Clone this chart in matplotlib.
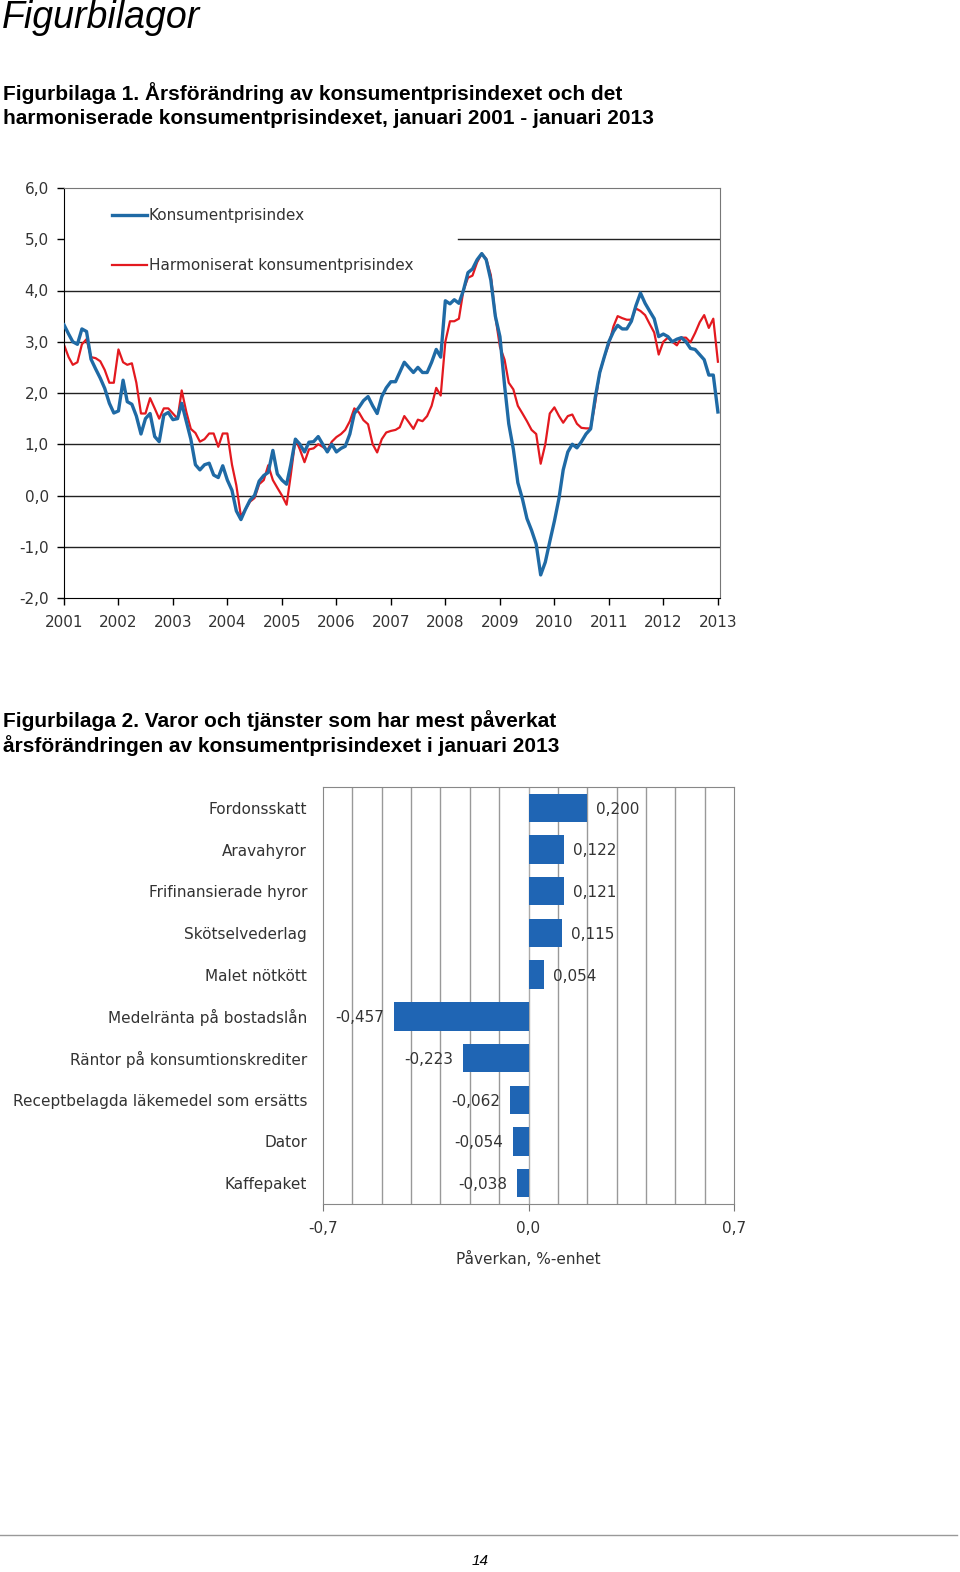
import matplotlib.pyplot as plt
import pandas as pd

# Figurbilaga 1: monthly annual change (%), Jan 2001 - Jan 2013
kpi = [
    3.33, 3.15, 3.00, 2.95, 3.25, 3.20, 2.66, 2.47, 2.29, 2.09, 1.80, 1.61,
    1.65, 2.25, 1.83, 1.78, 1.55, 1.20, 1.50, 1.60, 1.15, 1.05, 1.57, 1.62,
    1.48, 1.50, 1.80, 1.44, 1.10, 0.60, 0.50, 0.60, 0.63, 0.40, 0.35, 0.58,
    0.30, 0.10, -0.30, -0.47, -0.27, -0.09, 0.00, 0.28, 0.39, 0.45, 0.88, 0.42,
    0.30, 0.22, 0.60, 1.10, 1.00, 0.85, 1.04, 1.05, 1.15, 1.00, 0.85, 1.00,
    0.85, 0.92, 0.96, 1.20, 1.60, 1.72, 1.85, 1.93, 1.75, 1.60, 1.93, 2.10,
    2.22, 2.22, 2.40, 2.60, 2.50, 2.40, 2.50, 2.40, 2.40, 2.60, 2.85, 2.70,
    3.80, 3.74, 3.82, 3.75, 4.00, 4.35, 4.42, 4.60, 4.72, 4.60, 4.20, 3.50,
    3.10, 2.15, 1.40, 0.90, 0.25, -0.07, -0.45, -0.68, -0.95, -1.55, -1.30, -0.90,
    -0.50, -0.05, 0.50, 0.85, 1.00, 0.93, 1.05, 1.20, 1.30, 1.90, 2.40, 2.70,
    3.00, 3.20, 3.32, 3.25, 3.25, 3.40, 3.70, 3.95, 3.75, 3.60, 3.45, 3.10,
    3.15, 3.10, 3.00, 3.05, 3.08, 3.00, 2.87, 2.85, 2.75, 2.65, 2.35, 2.35,
    1.63,
]
hikp = [
    2.94, 2.70, 2.55, 2.60, 2.95, 3.05, 2.70, 2.68, 2.62, 2.45, 2.20, 2.20,
    2.85, 2.60, 2.55, 2.58, 2.20, 1.60, 1.60, 1.90, 1.70, 1.50, 1.70, 1.70,
    1.60, 1.50, 2.05, 1.63, 1.30, 1.22, 1.05, 1.10, 1.21, 1.21, 0.95, 1.21,
    1.21, 0.60, 0.20, -0.41, -0.27, -0.12, -0.05, 0.22, 0.30, 0.59, 0.30, 0.15,
    0.00, -0.18, 0.40, 1.10, 0.90, 0.65, 0.90, 0.92, 1.00, 0.95, 0.88, 1.05,
    1.14, 1.20, 1.28, 1.45, 1.70, 1.62, 1.47, 1.39, 1.00, 0.84, 1.10, 1.23,
    1.26, 1.28, 1.33, 1.55, 1.43, 1.30, 1.48, 1.45, 1.55, 1.75, 2.10, 1.95,
    3.00, 3.40, 3.40, 3.45, 4.00, 4.25, 4.29, 4.55, 4.72, 4.62, 4.30, 3.50,
    2.90, 2.65, 2.20, 2.07, 1.75, 1.60, 1.45, 1.28, 1.20, 0.62, 1.00, 1.60,
    1.72, 1.55, 1.42, 1.55, 1.58, 1.40, 1.32, 1.31, 1.31, 1.80, 2.40, 2.70,
    2.95, 3.30, 3.50, 3.46, 3.43, 3.43, 3.65, 3.60, 3.52, 3.35, 3.18, 2.75,
    3.00, 3.08, 3.00, 2.93, 3.08, 3.08, 2.99, 3.17, 3.38, 3.52, 3.27, 3.45,
    2.61,
]
months = pd.date_range("2001-01-01", periods=len(kpi), freq="MS")
years = list(range(2001, 2014))
y_ticks = [-2, -1, 0, 1, 2, 3, 4, 5, 6]

# Figurbilaga 2: impact, percentage points
items = [
    "Fordonsskatt", "Aravahyror", "Frifinansierade hyror", "Skötselvederlag",
    "Malet nötkött", "Medelränta på bostadslån", "Räntor på konsumtionskrediter",
    "Receptbelagda läkemedel som ersätts", "Dator", "Kaffepaket",
]
impact = [0.200, 0.122, 0.121, 0.115, 0.054, -0.457, -0.223, -0.062, -0.054, -0.038]

W, H = 960, 1572
fig = plt.figure(figsize=(W / 100, H / 100), dpi=100)
plt.rcParams["font.family"] = ["DejaVu Sans"]
TXT = "#333333"
head = ["Liberation Sans", "DejaVu Sans"]


def fy(py):
    return 1 - py / H


fig.text(2 / W, fy(18), "Figurbilagor", fontsize=27, style="italic", family=head, va="center")
fig.text(3 / W, fy(93), "Figurbilaga 1. Årsförändring av konsumentprisindexet och det",
         fontsize=15, weight="bold", family=head, va="center")
fig.text(3 / W, fy(118), "harmoniserade konsumentprisindexet, januari 2001 - januari 2013",
         fontsize=15, weight="bold", family=head, va="center")
fig.text(3 / W, fy(721), "Figurbilaga 2. Varor och tjänster som har mest påverkat",
         fontsize=15, weight="bold", family=head, va="center")
fig.text(3 / W, fy(746), "årsförändringen av konsumentprisindexet i januari 2013",
         fontsize=15, weight="bold", family=head, va="center")

# line chart
ax = fig.add_axes([64 / W, fy(598), 656 / W, 410 / H])
for v in y_ticks[1:-1]:
    xmin = 0.6 if v == 5 else 0
    ax.axhline(v, xmin=xmin, color="#222222", lw=1, zorder=1)
ax.plot(months, kpi, color="#1f6aa5", lw=2.4, label="Konsumentprisindex", zorder=3)
ax.plot(months, hikp, color="#e3191f", lw=1.6, label="Harmoniserat konsumentprisindex", zorder=2)
ax.set_ylim(-2, 6)
ax.set_xlim(months[0], months[-1] + pd.Timedelta(days=14))
ax.set_yticks(y_ticks)
ax.set_yticklabels([f"{v:.1f}".replace(".", ",") for v in y_ticks])
ax.set_xticks([pd.Timestamp(f"{y}-01-01") for y in years])
ax.set_xticklabels([str(y) for y in years])
ax.tick_params(axis="y", length=5, width=1, pad=6, labelsize=11, labelcolor=TXT)
ax.tick_params(axis="x", length=5, width=1, pad=7, labelsize=11, labelcolor=TXT)
for s in ["top", "right"]:
    ax.spines[s].set_color("#777777")
for s in ["left", "bottom"]:
    ax.spines[s].set_color("black")
leg = ax.legend(loc="upper left", bbox_to_anchor=(0.073, 0.951), frameon=False,
                fontsize=11, handlelength=2.3, handletextpad=0.1, labelspacing=2.3,
                borderpad=0, borderaxespad=0)
for t in leg.get_texts():
    t.set_color(TXT)

# bar chart
bx = fig.add_axes([323 / W, fy(1204), 411 / W, 417 / H])
pos = list(range(len(items)))
for g in [i / 10 for i in range(-6, 7) if i != 0]:
    bx.axvline(g, color="#999999", lw=1, zorder=1)
bx.axvline(0, color="#aaaaaa", lw=1, zorder=1)
bx.barh(pos, impact, height=0.68, color="#1f65b4", zorder=2)
for p, v in zip(pos, impact):
    lab = f"{v:.3f}".replace(".", ",")
    if v >= 0:
        bx.annotate(lab, (v, p), xytext=(6.5, -1), textcoords="offset points",
                    ha="left", va="center", fontsize=11, color=TXT)
    else:
        bx.annotate(lab, (v, p), xytext=(-7, -1), textcoords="offset points",
                    ha="right", va="center", fontsize=11, color=TXT)
bx.set_xlim(-0.7, 0.7)
bx.set_ylim(len(items) - 0.5, -0.5)
bx.set_yticks(pos)
bx.set_yticklabels(items)
bx.set_xticks([-0.7, 0, 0.7])
bx.set_xticklabels(["-0,7", "0,0", "0,7"])
bx.tick_params(axis="y", length=0, pad=11.5, labelsize=11, labelcolor=TXT)
bx.tick_params(axis="x", length=5, color="#777777", pad=7, labelsize=11, labelcolor=TXT)
bx.set_xlabel("Påverkan, %-enhet", fontsize=11, color=TXT, labelpad=11)
for s in bx.spines.values():
    s.set_color("#888888")

# page footer
fig.add_artist(plt.Line2D([0, 957 / W], [fy(1535), fy(1535)], color="#999999", lw=1))
fig.text(0.5, fy(1561), "14", fontsize=11, style="italic", family=head, ha="center", va="center")

fig.savefig("out.png", dpi=100)
